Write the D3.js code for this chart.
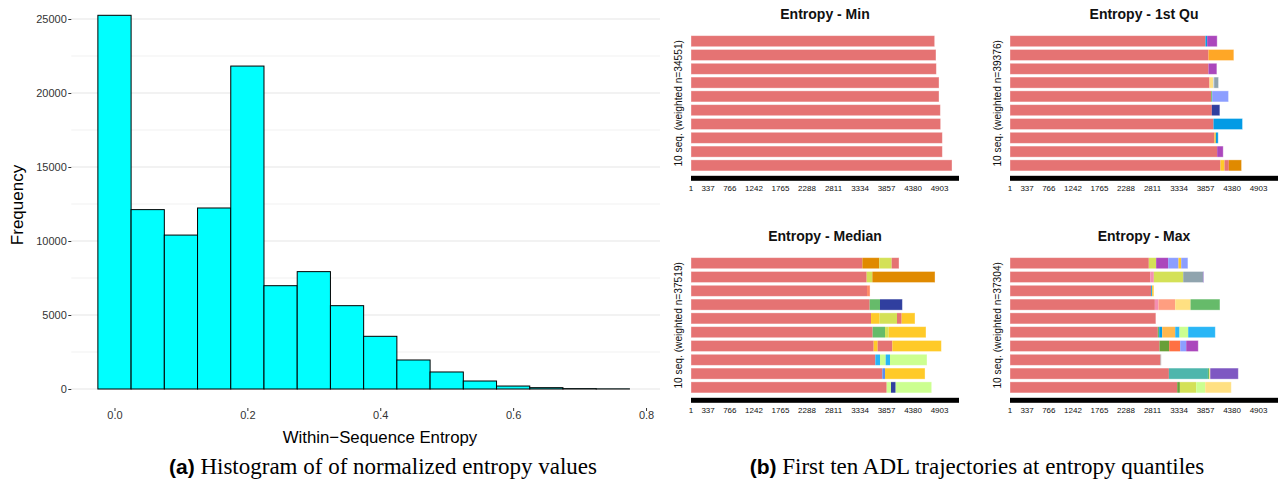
<!DOCTYPE html>
<html><head><meta charset="utf-8">
<script src="https://cdn.jsdelivr.net/npm/d3@7"></script>
<style>body{margin:0;background:#fff;} svg{display:block;font-family:"Liberation Sans",Arial,sans-serif;}</style>
</head><body>
<svg id="c" width="1282" height="485"></svg>
<script>
// ---------- DATA ----------
const histBinCenters = [0, 0.05, 0.1, 0.15, 0.2, 0.25, 0.3, 0.35, 0.4, 0.45, 0.5, 0.55, 0.6, 0.65, 0.7, 0.75];
const histCounts = [25250, 12120, 10400, 12230, 21820, 6980, 7930, 5630, 3560, 1960, 1150, 540, 200, 90, 25, 10];
const histBinWidth = 0.05;
const histYTicks = [0, 5000, 10000, 15000, 20000, 25000];
const histYMinor = [2500, 7500, 12500, 17500, 22500];
const histXTicks = [0, 0.2, 0.4, 0.6, 0.8];
const histXLabel = "Within\u2212Sequence Entropy";
const histYLabel = "Frequency";

const seqTickLabels = [1, 337, 766, 1242, 1765, 2288, 2811, 3334, 3857, 4380, 4903];
const seqAxisMax = 5286;
const panelTitles = ["Entropy - Min", "Entropy - 1st Qu", "Entropy - Median", "Entropy - Max"];
const panelWeightedN = [34551, 39376, 37519, 37304];

// each sequence: list of [state, end position]
const seqMin = [
  [["A",4806]], [["A",4832]], [["A",4839]], [["A",4892]], [["A",4892]],
  [["A",4918]], [["A",4924]], [["A",4957]], [["A",4957]], [["A",5148]]
];
const seqQ1 = [
  [["A",3856],["C",3889],["D",4086]],
  [["A",3915],["E",4415]],
  [["A",3915],["D",4080]],
  [["A",3935],["F",4007],["G",4027],["H",4113]],
  [["A",3968],["I",3987],["J",4310]],
  [["A",3981],["K",4139]],
  [["A",4014],["C",4586]],
  [["A",4034],["L",4060],["C",4106]],
  [["A",4086],["D",4205]],
  [["A",4152],["L",4231],["A",4316],["M",4567]]
];
const seqMed = [
  [["A",3380],["M",3715],["N",3958],["A",4103]],
  [["A",3465],["N",3577],["M",4813]],
  [["A",3472],["Y",3531]],
  [["A",3524],["I",3728],["K",4169]],
  [["A",3551],["L",3721],["N",4063],["A",4155],["L",4418]],
  [["A",3583],["I",3827],["N",3899],["L",4635]],
  [["A",3603],["L",3682],["A",3971],["L",4938]],
  [["A",3636],["O",3728],["P",3840],["O",3925],["P",4655]],
  [["A",3774],["B",3827],["L",4616]],
  [["A",3860],["P",3945],["K",4037],["P",4747]]
];
const seqMax = [
  [["A",2738],["N",2883],["D",3120],["J",3324],["L",3377],["J",3509]],
  [["A",2765],["Q",2837],["N",3417],["H",3805],["X",3818]],
  [["A",2785],["C",2804],["L",2837]],
  [["A",2857],["Q",2929],["R",3259],["F",3561],["I",4141]],
  [["A",2877]],
  [["A",2916],["I",2943],["C",3002],["W",3259],["O",3344],["P",3515],["O",4049]],
  [["A",2949],["T",3140],["S",3357],["J",3476],["D",3713]],
  [["A",2969],["Z",2982]],
  [["A",3134],["U",3904],["I",3930],["F",3950],["V",4503]],
  [["A",3298],["T",3351],["N",3673],["P",3851],["F",4365]]
];
const captionA = ["(a)", " Histogram of of normalized entropy values"];
const captionB = ["(b)", " First ten ADL trajectories at entropy quantiles"];

// ---------- STYLE ----------
const stateColor = {
  A:"#E57373", B:"#5B8DEF", C:"#039BE5", D:"#AB47BC", E:"#FFA726", F:"#FFE082",
  G:"#CFD8DC", H:"#90A4AE", I:"#66BB6A", J:"#8C9EFF", K:"#303F9F", L:"#FFCA28",
  M:"#E08A00", N:"#D4E157", O:"#29B6F6", P:"#CCFF90", Q:"#F48FB1", R:"#FF9E80",
  S:"#FF7043", T:"#689F38", U:"#4DB6AC", V:"#7E57C2", W:"#FFB74D", X:"#5E35B1",
  Y:"#FF8A65", Z:"#9E9E9E"
};

const svg = d3.select("#c");

// ---------- HISTOGRAM ----------
const hx = d3.scaleLinear().domain([-0.065, 0.815]).range([71.3, 656]);
const hy = d3.scaleLinear().domain([0, 25000]).range([389, 19]);
const gH = svg.append("g");

gH.selectAll("line.minor").data(histYMinor).enter().append("line")
  .attr("x1", hx.range()[0]).attr("x2", 660)
  .attr("y1", d => hy(d)).attr("y2", d => hy(d))
  .attr("stroke", "#EBEBEB").attr("stroke-width", 0.7);
gH.selectAll("line.major").data(histYTicks).enter().append("line")
  .attr("x1", hx.range()[0]).attr("x2", 660)
  .attr("y1", d => hy(d)).attr("y2", d => hy(d))
  .attr("stroke", "#E6E6E6").attr("stroke-width", 1.1);

gH.selectAll("rect.bar").data(histCounts).enter().append("rect")
  .attr("x", (d, i) => hx(histBinCenters[i] - histBinWidth / 2))
  .attr("width", (d, i) => hx(histBinCenters[i] + histBinWidth / 2) - hx(histBinCenters[i] - histBinWidth / 2))
  .attr("y", d => hy(d))
  .attr("height", d => hy(0) - hy(d))
  .attr("fill", "#00FFFF").attr("stroke", "#000").attr("stroke-width", 1);

const yAx = gH.append("g").attr("transform", `translate(${hx.range()[0]},0)`)
  .call(d3.axisLeft(hy).tickValues(histYTicks).tickSize(3).tickPadding(1.5).tickFormat(d3.format("d")));
yAx.select(".domain").remove();
yAx.selectAll("text").attr("font-size", 11).attr("fill", "#333").attr("font-family", "Liberation Sans");
yAx.selectAll("line").attr("stroke", "#333");

const xAx = gH.append("g").attr("transform", "translate(0,408)")
  .call(d3.axisBottom(hx).tickValues(histXTicks).tickSize(3).tickPadding(0.5).tickFormat(d3.format(".1f")));
xAx.select(".domain").remove();
xAx.selectAll("text").attr("font-size", 11).attr("fill", "#333").attr("font-family", "Liberation Sans");
xAx.selectAll("line").attr("stroke", "#333");

gH.append("text").attr("x", 380).attr("y", 443).attr("text-anchor", "middle")
  .attr("font-size", 16.8).attr("fill", "#000").text(histXLabel);
gH.append("text").attr("transform", "translate(23,205) rotate(-90)").attr("text-anchor", "middle")
  .attr("font-size", 17).attr("fill", "#000").text(histYLabel);

// ---------- SEQUENCE PANELS ----------
const panelData = [seqMin, seqQ1, seqMed, seqMax];
const panelLayout = [
  {left: 691, top: 34.3}, {left: 1010, top: 34.3},
  {left: 691, top: 256.3}, {left: 1010, top: 256.3}
];
const panelW = 268, rowsH = 138;
const sx = d3.scaleLinear().domain([0, seqAxisMax]).range([0, panelW]);

panelData.forEach((seqs, p) => {
  const L = panelLayout[p];
  const g = svg.append("g").attr("transform", `translate(${L.left},${L.top})`);
  const band = d3.scaleBand().domain(d3.range(seqs.length)).range([0, rowsH])
    .paddingInner(0.2).paddingOuter(0.1);
  seqs.forEach((segs, r) => {
    let start = 0;
    const segData = segs.map(([s, end]) => { const o = {s, x0: start, x1: end}; start = end; return o; });
    g.selectAll(null).data(segData).enter().append("rect")
      .attr("x", d => sx(d.x0)).attr("width", d => Math.max(0.6, sx(d.x1) - sx(d.x0)))
      .attr("y", band(r)).attr("height", band.bandwidth())
      .attr("fill", d => stateColor[d.s]);
    g.append("rect").attr("x", 0).attr("y", band(r))
      .attr("width", sx(segs[segs.length - 1][1])).attr("height", band.bandwidth())
      .attr("fill", "none").attr("stroke", "rgba(255,255,255,0.45)").attr("stroke-width", 0.8);
  });
  const axY = rowsH + 3.5;
  g.append("rect").attr("x", 0).attr("y", axY).attr("width", panelW).attr("height", 5).attr("fill", "#000");
  g.selectAll("text.tick").data(seqTickLabels).enter().append("text")
    .attr("x", d => sx(d)).attr("y", axY + 12.5)
    .attr("text-anchor", "middle").attr("dominant-baseline", "central")
    .attr("font-size", 8).attr("fill", "#111").text(d => d);
  g.append("text").attr("x", panelW / 2).attr("y", -20)
    .attr("text-anchor", "middle").attr("dominant-baseline", "central")
    .attr("font-size", 14).attr("font-weight", "bold").attr("fill", "#111").text(panelTitles[p]);
  g.append("text").attr("transform", `translate(-13,${rowsH / 2}) rotate(-90)`)
    .attr("text-anchor", "middle").attr("dominant-baseline", "central")
    .attr("font-size", 10.2).attr("fill", "#111").text(`10 seq. (weighted n=${panelWeightedN[p]})`);
});

// ---------- CAPTIONS ----------
function caption(parts, cx) {
  const t = svg.append("text").attr("x", cx).attr("y", 474).attr("text-anchor", "middle").attr("fill", "#000");
  t.append("tspan").attr("font-family", "Liberation Sans").attr("font-weight", "bold").attr("font-size", 21).text(parts[0]);
  t.append("tspan").attr("font-family", "Liberation Serif").attr("font-size", 23).text(parts[1]);
}
caption(captionA, 383);
caption(captionB, 977);
</script>
</body></html>
